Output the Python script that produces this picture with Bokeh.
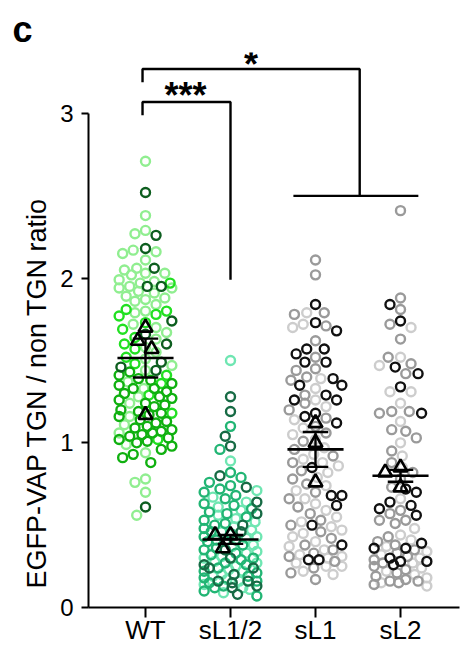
import math
import numpy as np
from bokeh.plotting import figure
from bokeh.models import FixedTicker, Range1d, Title
from bokeh.core.properties import value
from bokeh.embed import file_html
from bokeh.resources import INLINE

# ---------------- data ----------------
CATEGORIES = ["WT", "sL1/2", "sL1", "sL2"]
Y_TICKS = [0, 1, 2, 3]
Y_LABEL = "EGFP-VAP TGN / non TGN ratio"
PANEL = "c"

WT_light = [2.71, 2.38, 2.29, 2.27, 2.17, 2.16, 2.15, 2.11, 2.06, 2.05, 2.03, 2.03, 2.02,
            1.99, 1.98, 1.97, 1.95, 1.94, 1.94, 1.92, 1.91, 1.89, 1.88, 1.87, 1.86, 1.84,
            1.80, 1.79, 1.72, 1.70, 1.67, 1.63, 1.58, 1.55, 1.51, 1.47, 1.44, 1.37, 1.33,
            1.28, 1.24, 1.16, 1.11, 1.06, 0.99, 0.94, 0.78, 0.76, 0.70, 0.56]
WT_lime = [1.97, 1.81, 1.80, 1.78, 1.77, 1.73, 1.69, 1.64, 1.60, 1.57, 1.52, 1.48, 1.41,
           1.36, 1.29, 1.18, 1.02]
WT_green = [1.43, 1.41, 1.39, 1.38, 1.36, 1.35, 1.33, 1.33, 1.31, 1.30, 1.28, 1.27, 1.26,
            1.24, 1.23, 1.22, 1.20, 1.19, 1.18, 1.17, 1.16, 1.14, 1.13, 1.12, 1.10, 1.09,
            1.08, 1.07, 1.06, 1.05, 1.04, 1.03, 1.02, 1.01, 1.00, 0.98, 0.96, 0.93, 0.91, 0.88]
WT_dark = [2.52, 2.26, 2.18, 2.06, 1.95, 1.95, 1.74, 1.66, 1.60, 1.49, 1.46, 1.44, 0.61]
WT_means = [1.70, 1.62, 1.57, 1.17]

S12_light = [1.50, 0.89, 0.71, 0.67, 0.64, 0.61, 0.59, 0.56, 0.54, 0.52, 0.49, 0.47, 0.46,
             0.43, 0.42, 0.40, 0.38, 0.37, 0.34, 0.33, 0.31, 0.30, 0.28, 0.27, 0.25, 0.23,
             0.22, 0.20, 0.19, 0.17, 0.16, 0.14, 0.12, 0.11, 0.09]
S12_mid = [1.10, 0.96, 0.82, 0.79, 0.76, 0.74, 0.72, 0.70, 0.68, 0.66, 0.63, 0.62, 0.60,
           0.58, 0.57, 0.55, 0.53, 0.51, 0.50, 0.48, 0.46, 0.45, 0.43, 0.41, 0.40, 0.38,
           0.36, 0.35, 0.33, 0.32, 0.30, 0.29, 0.27, 0.26, 0.24, 0.22, 0.21, 0.19, 0.18,
           0.16, 0.15, 0.13, 0.12, 0.10, 0.07]
S12_dark = [1.28, 1.19, 1.04, 0.98, 0.80, 0.73, 0.64, 0.57, 0.50, 0.46, 0.41, 0.35, 0.30,
            0.26, 0.24, 0.24, 0.20, 0.16, 0.16, 0.15, 0.13, 0.12, 0.08]
S12_means = [0.44, 0.44, 0.36]

S1_light = [1.79, 1.72, 1.70, 1.39, 1.33, 1.26, 1.22, 1.14, 1.09, 1.05, 1.02, 0.97, 0.93,
            0.90, 0.88, 0.86, 0.82, 0.79, 0.74, 0.71, 0.66, 0.63, 0.59, 0.55, 0.52, 0.49,
            0.47, 0.45, 0.43, 0.40, 0.37, 0.35, 0.32, 0.31, 0.30, 0.27, 0.25, 0.25, 0.22, 0.20]
S1_gray = [2.11, 2.02, 1.79, 1.78, 1.71, 1.62, 1.52, 1.45, 1.44, 1.40, 1.38, 1.29, 1.24,
           1.20, 1.15, 1.10, 1.06, 1.01, 0.96, 0.92, 0.88, 0.83, 0.78, 0.75, 0.70, 0.66,
           0.61, 0.57, 0.53, 0.50, 0.46, 0.42, 0.38, 0.35, 0.33, 0.31, 0.28, 0.24, 0.21, 0.17]
S1_dark = [1.84, 1.73, 1.68, 1.57, 1.57, 1.54, 1.49, 1.49, 1.39, 1.35, 1.35, 1.29, 1.26,
           1.26, 1.18, 1.16, 1.12, 0.85, 0.68, 0.68, 0.62, 0.50, 0.38, 0.29, 0.29]
S1_means = [1.12, 1.00, 0.76]

S2_light = [1.70, 1.52, 1.47, 1.31, 1.31, 1.24, 1.13, 1.00, 0.92, 0.85, 0.66, 0.48, 0.44,
            0.41, 0.37, 0.34, 0.32, 0.30, 0.27, 0.24, 0.22, 0.20, 0.18, 0.15, 0.13]
S2_gray = [2.41, 1.88, 1.81, 1.72, 1.63, 1.52, 1.48, 1.42, 1.19, 1.19, 1.18, 1.08, 1.07,
           1.03, 0.95, 0.88, 0.82, 0.78, 0.73, 0.59, 0.57, 0.53, 0.53, 0.51, 0.43, 0.40,
           0.38, 0.35, 0.33, 0.31, 0.29, 0.27, 0.25, 0.23, 0.21, 0.19, 0.17, 0.16, 0.16,
           0.15, 0.14]
S2_dark = [1.84, 1.74, 1.46, 1.42, 1.34, 1.18, 0.72, 0.70, 0.64, 0.62, 0.60, 0.56, 0.39,
           0.36, 0.36, 0.30, 0.28, 0.28, 0.26]
S2_means = [0.82, 0.85, 0.73]

SIG_INNER = "***"
SIG_OUTER = "*"

# ---------------- styles / layout ----------------
GROUPS = [
    ([WT_light, WT_lime, WT_green, WT_dark], ["#90ee90", "#22e022", "#10b010", "#0d5e1f"], WT_means),
    ([S12_light, S12_mid, S12_dark], ["#6fe6b2", "#22b574", "#176b45"], S12_means),
    ([S1_light, S1_gray, S1_dark], ["#cdcdcd", "#9a9a9a", "#111111"], S1_means),
    ([S2_light, S2_gray, S2_dark], ["#cdcdcd", "#9a9a9a", "#111111"], S2_means),
]

W, H = 468, 648
BL, BR, BT, BB = 88, 9, 52, 41
FRAME_W = W - BL - BR
FRAME_H = H - BT - BB
PPX = 85.0                      # pixels per category
X0 = 1 - (145 - BL) / PPX
X1 = X0 + FRAME_W / PPX
Y3_PX = 113                     # pixel row of y=3
Y0_PX = H - BB                  # pixel row of y=0
PPY = (Y0_PX - Y3_PX) / 3.0
Y1 = FRAME_H / PPY

FONT = "Liberation Sans"


def swarm(vals, half_w, diam, n_cand=31):
    vals = np.asarray(vals, dtype=float)
    order = np.argsort(-vals, kind="stable")
    cands = sorted(np.linspace(-half_w, half_w, n_cand), key=abs)
    offs = np.zeros(len(vals))
    placed = []
    for i in order:
        ypx = vals[i] * PPY
        best = None
        for c in cands:
            xpx = c * PPX
            cost = 0.0
            for (px, py) in placed:
                dy = abs(py - ypx)
                if dy >= diam:
                    continue
                d = math.hypot(px - xpx, dy)
                if d < diam:
                    cost += (diam - d) ** 2
            if best is None or cost < best[0] - 1e-9:
                best = (cost, c)
        offs[i] = best[1]
        placed.append((best[1] * PPX, ypx))
    return offs


p = figure(width=W, height=H, output_backend="svg", toolbar_location=None, title=None,
           x_range=Range1d(X0, X1), y_range=Range1d(0, Y1),
           min_border_left=BL, min_border_right=BR, min_border_top=BT, min_border_bottom=BB)
p.outline_line_color = None
p.xgrid.visible = False
p.ygrid.visible = False
p.background_fill_color = "white"
p.border_fill_color = "white"

p.add_layout(Title(text=PANEL, align="left", offset=-76, standoff=6,
                   text_font=FONT, text_font_style="bold", text_font_size="36px",
                   text_color="black"), "above")

for gi, (reps, colors, means) in enumerate(GROUPS):
    center = gi + 1
    allv = [v for r in reps for v in r]
    offs = swarm(allv, 0.31, 11)
    k = 0
    for r, col in zip(reps, colors):
        xs = [center + o for o in offs[k:k + len(r)]]
        k += len(r)
        p.scatter(xs, r, marker="circle", size=9, fill_color=None,
                  line_color=col, line_width=2.4)
    m = float(np.mean(means))
    sem = float(np.std(means, ddof=1) / math.sqrt(len(means)))
    p.segment(x0=[center - 0.33], x1=[center + 0.33], y0=[m], y1=[m],
              line_color="black", line_width=2.6)
    p.segment(x0=[center], x1=[center], y0=[m - sem], y1=[m + sem],
              line_color="black", line_width=2.4)
    p.segment(x0=[center - 0.15, center - 0.15], x1=[center + 0.15, center + 0.15],
              y0=[m - sem, m + sem], y1=[m - sem, m + sem],
              line_color="black", line_width=2.4)
    toffs = swarm(means, 0.27, 15)
    p.scatter([center + o for o in toffs], means, marker="triangle", size=14,
              fill_color=None, line_color="black", line_width=2.6)

# significance brackets
LEG_X = 0.965
p.line([LEG_X, LEG_X, 2.0, 2.0], [2.99, 3.07, 3.07, 1.99], line_color="black", line_width=2.4)
p.line([LEG_X, LEG_X, 3.52, 3.52], [3.19, 3.27, 3.27, 2.50], line_color="black", line_width=2.4)
p.line([2.74, 4.21], [2.50, 2.50], line_color="black", line_width=2.4)
p.text(x=[1.47, 2.24], y=[3.11, 3.295], text=[SIG_INNER, SIG_OUTER],
       text_font=value(FONT), text_font_style="bold", text_font_size="36px",
       text_align="center", text_baseline="alphabetic", text_color="black")

# axes
p.yaxis.ticker = FixedTicker(ticks=Y_TICKS)
p.yaxis.bounds = (0, 3)
p.yaxis.minor_tick_line_color = None
p.yaxis.major_tick_in = 0
p.yaxis.major_tick_out = 7
p.yaxis.axis_line_width = 2
p.yaxis.major_tick_line_width = 2
p.yaxis.major_label_text_font = FONT
p.yaxis.major_label_text_font_size = "24px"
p.yaxis.major_label_text_color = "black"
p.yaxis.major_label_standoff = 8

# y axis title, positioned along the axis like the reference
p.add_layout(Title(text=Y_LABEL, align="left", offset=19, standoff=12,
                   text_font=FONT, text_font_style="normal", text_font_size="27px",
                   text_color="black"), "left")

p.xaxis.ticker = FixedTicker(ticks=[1, 2, 3, 4])
p.xaxis.major_label_overrides = {i + 1: c for i, c in enumerate(CATEGORIES)}
p.xaxis.minor_tick_line_color = None
p.xaxis.major_tick_in = 0
p.xaxis.major_tick_out = 10
p.xaxis.axis_line_width = 2
p.xaxis.major_tick_line_width = 2
p.xaxis.major_label_text_font = FONT
p.xaxis.major_label_text_font_size = "26px"
p.xaxis.major_label_text_color = "black"
p.xaxis.major_label_standoff = -3

open("out.html", "w").write(file_html(p, INLINE))
